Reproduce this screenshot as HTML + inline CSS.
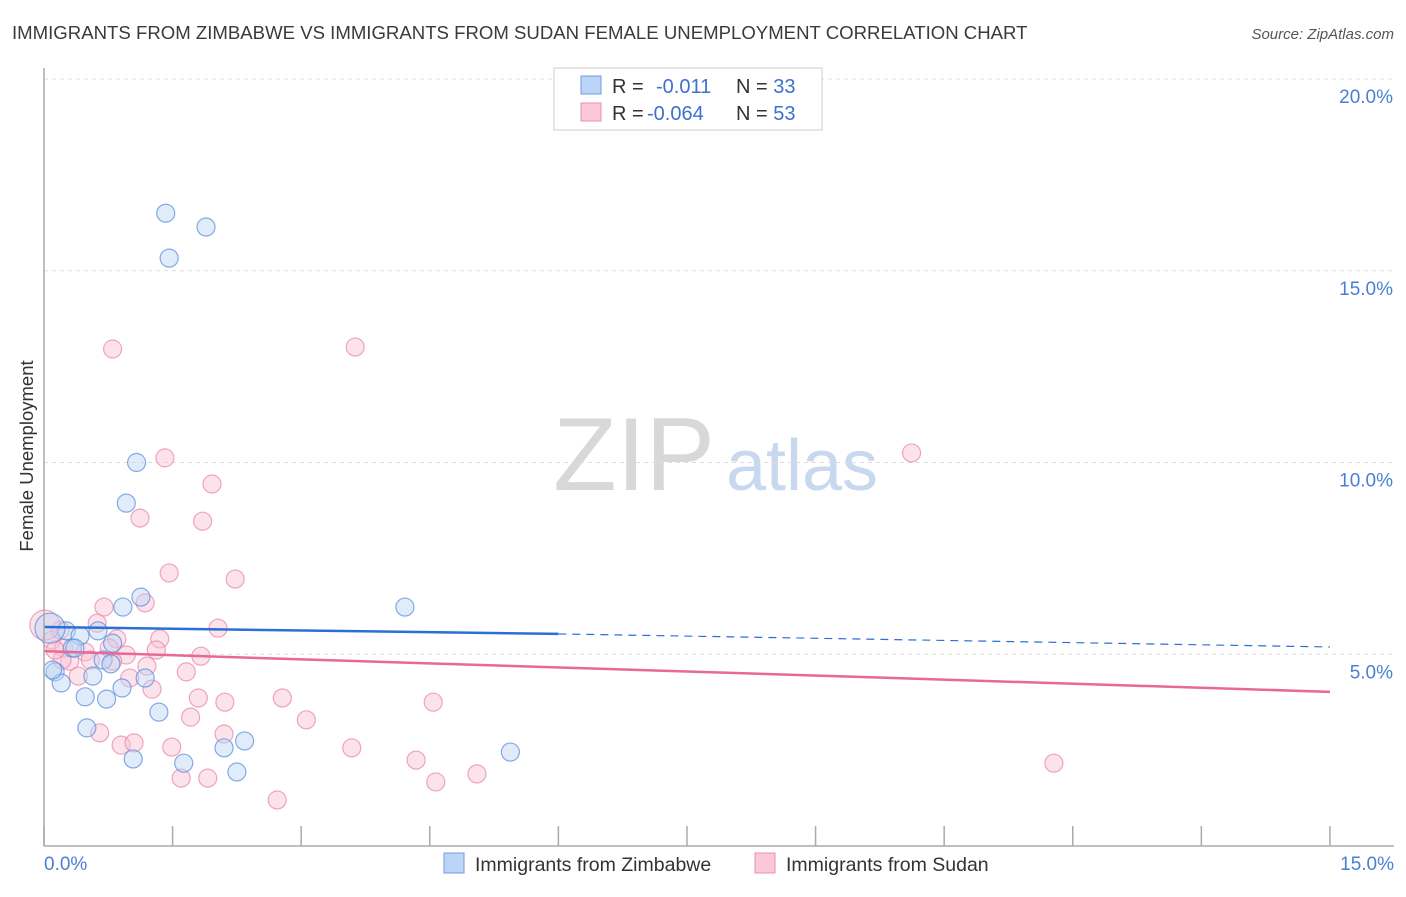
<!DOCTYPE html>
<html><head><meta charset="utf-8"><style>
body{margin:0;background:#fff;font-family:"Liberation Sans",sans-serif}
svg text{font-family:"Liberation Sans",sans-serif}
</style></head><body>
<svg id="c" width="1406" height="892" xmlns="http://www.w3.org/2000/svg">
<text x="12" y="39" font-size="18.6" fill="#3a3a3a">IMMIGRANTS FROM ZIMBABWE VS IMMIGRANTS FROM SUDAN FEMALE UNEMPLOYMENT CORRELATION CHART</text>
<text x="1394" y="39" font-size="15" fill="#555" font-style="italic" text-anchor="end">Source: ZipAtlas.com</text>
<text x="634" y="490" font-size="104" fill="#d8d8d8" font-family="Liberation Serif" text-anchor="middle">ZIP</text>
<text x="802" y="490" font-size="72" fill="#c8d8ee" text-anchor="middle">atlas</text>
<g id="grid"></g><g id="pts"></g><g id="trend"></g>
<line x1="44" y1="68" x2="44" y2="846" stroke="#aaa" stroke-width="1.5"/>
<line x1="44" y1="846" x2="1394" y2="846" stroke="#aaa" stroke-width="1.5"/>
<text x="33" y="456" font-size="18.5" fill="#333" text-anchor="middle" transform="rotate(-90 33 456)">Female Unemployment</text>
<text x="44" y="870" font-size="19" fill="#4a7fd4">0.0%</text>
<text x="1394" y="870" font-size="19" fill="#4a7fd4" text-anchor="end">15.0%</text>
<g>
<rect x="554" y="68" width="268" height="62" fill="#fff" stroke="#ccc"/>
<rect x="581" y="76" width="20" height="18" fill="#bcd4f5" stroke="#6f9be0"/>
<rect x="581" y="103" width="20" height="18" fill="#fac8d8" stroke="#e890ac"/>
<text x="612" y="93" font-size="20" fill="#333">R = <tspan x="656" fill="#3f6fd0">-0.011</tspan><tspan x="736">N = </tspan><tspan fill="#3f6fd0">33</tspan></text>
<text x="612" y="120" font-size="20" fill="#333">R = <tspan x="647" fill="#3f6fd0">-0.064</tspan><tspan x="736">N = </tspan><tspan fill="#3f6fd0">53</tspan></text>
</g>
<g>
<rect x="444" y="853" width="20" height="20" fill="#bcd4f5" stroke="#6f9be0"/>
<text x="475" y="871" font-size="19.5" fill="#333">Immigrants from Zimbabwe</text>
<rect x="755" y="853" width="20" height="20" fill="#fac8d8" stroke="#e890ac"/>
<text x="786" y="871" font-size="19.5" fill="#333">Immigrants from Sudan</text>
</g>
</svg>
<script>
const yTicks=[5,10,15,20];
const yTickLabels=["5.0%","10.0%","15.0%","20.0%"];
const xTicks=[0,1.5,3,4.5,6,7.5,9,10.5,12,13.5,15];
const zimX=[1.42,1.89,1.46,1.08,0.96,1.13,0.92,4.21,0.26,0.63,0.42,0.80,0.33,0.69,0.78,0.13,0.57,0.20,0.91,0.48,0.73,1.18,1.34,0.50,1.04,2.10,2.34,1.63,2.25,5.44,0.07,0.10,0.36];
const zimY=[16.5,16.14,15.33,10.0,8.94,6.49,6.23,6.23,5.61,5.61,5.48,5.29,5.16,4.85,4.75,4.54,4.43,4.25,4.12,3.89,3.83,4.38,3.49,3.08,2.27,2.56,2.74,2.16,1.93,2.45,5.68,4.59,5.16];
const sudX=[0.80,3.63,10.12,1.41,1.96,1.12,1.85,1.46,2.23,0.70,1.18,0.62,2.03,0.09,0.85,1.35,0.23,0.76,1.31,0.48,0.96,1.83,0.30,0.80,1.20,1.66,0.40,1.00,1.26,1.80,2.11,2.78,4.54,1.71,3.06,0.65,2.10,0.90,1.05,1.49,3.59,4.34,11.78,1.60,1.91,5.05,4.57,2.72,0.21,0.54,0.19,0.13,0.01];
const sudY=[12.96,13.01,10.25,10.12,9.44,8.55,8.47,7.12,6.96,6.23,6.34,5.81,5.68,5.37,5.40,5.40,5.16,5.16,5.11,5.06,4.98,4.95,4.82,4.82,4.69,4.54,4.43,4.38,4.09,3.86,3.75,3.86,3.75,3.36,3.29,2.95,2.92,2.63,2.69,2.58,2.56,2.24,2.16,1.77,1.77,1.88,1.67,1.20,4.85,4.85,5.63,5.11,5.76];
const zimTrend=[5.71,5.53,5.19];
const sudTrend=[5.08,4.02];
const X=v=>44+v*85.73, Y=v=>846-v*38.35;
const NS="http://www.w3.org/2000/svg";
function mk(t,a,p){const e=document.createElementNS(NS,t);for(const k in a)e.setAttribute(k,a[k]);p.appendChild(e);return e;}
const grid=document.getElementById('grid');
yTicks.forEach((v,i)=>{
 const l=mk('line',{x1:44,x2:1394,y1:Y(v),y2:Y(v),stroke:'#ddd','stroke-dasharray':'4,4'},grid);
 
 
 const t=mk('text',{x:1393,y:Y(v)+24,'font-size':19,fill:'#4a7fd4','text-anchor':'end'},grid);
 t.textContent=yTickLabels[i];
 
 
});
xTicks.forEach(v=>{
 const l=mk('line',{x1:X(v),x2:X(v),y1:826,y2:846,stroke:'#aaa','stroke-width':1.5},grid);
 
 
});
const pts=document.getElementById('pts');
function dots(xs,ys,fill,stroke,name){
 xs.forEach((x,i)=>{
  const big=(x<0.1&&ys[i]>5.5);
  const c=mk('circle',{cx:X(x),cy:Y(ys[i]),r:big?15:9,fill:fill,'fill-opacity':0.45,stroke:stroke,'stroke-opacity':0.75,'stroke-width':1.2},pts);
  
  
 });
}
dots(sudX,sudY,'#f8c0d2','#e88aa8','sudan-point');
dots(zimX,zimY,'#bcd4f5','#5f8fdc','zimbabwe-point');
const tr=document.getElementById('trend');
let a=mk('line',{x1:X(0),y1:Y(zimTrend[0]),x2:X(6),y2:Y(zimTrend[1]),stroke:'#2a6fd6','stroke-width':2.5},tr);


let b=mk('line',{x1:X(6),y1:Y(zimTrend[1]),x2:X(15),y2:Y(zimTrend[2]),stroke:'#2a6fd6','stroke-width':1.2,'stroke-dasharray':'8,6'},tr);


let s=mk('line',{x1:X(0),y1:Y(sudTrend[0]),x2:X(15),y2:Y(sudTrend[1]),stroke:'#e8689a','stroke-width':2.5},tr);


</script>
</body></html>
